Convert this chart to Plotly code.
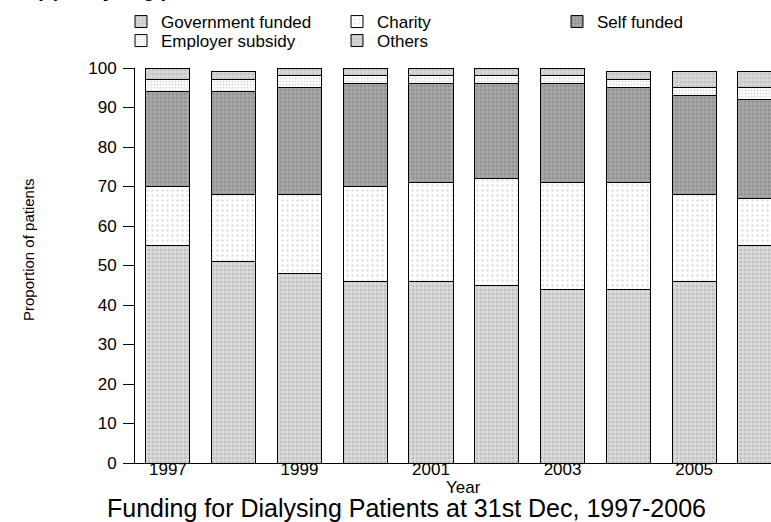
import plotly.graph_objects as go

# Data (percent of patients, per year)
years = [1997, 1998, 1999, 2000, 2001, 2002, 2003, 2004, 2005, 2006]
government = [55, 51, 48, 46, 46, 45, 44, 44, 46, 55]
charity = [15, 17, 20, 24, 25, 27, 27, 27, 22, 12]
self_funded = [24, 26, 27, 26, 25, 24, 25, 24, 25, 25]
employer = [3, 3, 3, 2, 2, 2, 2, 2, 2, 3]
others = [3, 2, 2, 2, 2, 2, 2, 2, 4, 4]
year_ticks = [1997, 1999, 2001, 2003, 2005]
y_ticks = [0, 10, 20, 30, 40, 50, 60, 70, 80, 90, 100]

FONT = "Liberation Sans, Arial, sans-serif"

# plot area in pixels (used to place the text outside the axes)
W, H = 771, 522
L, T, B = 135, 68, 59
PW = W - L
PH = H - T - B


def px_x(x):
    return (x - L) / PW


def px_y(y):
    return (H - B - y) / PH


# stacking order bottom -> top, with the legend slot of each series
series = [
    ("Government funded", government, "#d9d9d9", "#a4a4a4", 4, 0.35, "legend"),
    ("Charity", charity, "#ffffff", "#bdbdbd", 5, 0.2, "legend2"),
    ("Self funded", self_funded, "#a6a6a6", "#7a7a7a", 4, 0.35, "legend3"),
    ("Employer subsidy", employer, "#ffffff", "#b0b0b0", 3, 0.3, "legend4"),
    ("Others", others, "#d6d6d6", "#b0b0b0", 4, 0.35, "legend5"),
]

fig = go.Figure()
for name, vals, bg, fg, size, sol, leg in series:
    fig.add_trace(go.Bar(
        x=years, y=vals, name=name, legend=leg,
        marker=dict(color=bg, line=dict(color="black", width=1),
                    pattern=dict(shape=".", bgcolor=bg, fgcolor=fg,
                                 size=size, solidity=sol)),
    ))

leg_common = dict(font=dict(family=FONT, size=17, color="black"),
                  bgcolor="rgba(0,0,0,0)", borderwidth=0,
                  xanchor="left", yanchor="middle")

fig.update_layout(
    width=W, height=H,
    margin=dict(l=L, r=0, t=T, b=B),
    barmode="stack",
    bargap=0.33,
    plot_bgcolor="white",
    paper_bgcolor="white",
    font=dict(family=FONT, size=17, color="black"),
    showlegend=True,
    legend=dict(x=px_x(121), y=px_y(22), **leg_common),
    legend2=dict(x=px_x(337), y=px_y(22), **leg_common),
    legend3=dict(x=px_x(557), y=px_y(22), **leg_common),
    legend4=dict(x=px_x(121), y=px_y(41), **leg_common),
    legend5=dict(x=px_x(337), y=px_y(41), **leg_common),
    xaxis=dict(
        range=[1996.5, 1996.5 + PW / 65.78],
        tickvals=year_ticks,
        ticks="",
        ticklabelstandoff=-9,
        showline=True, linecolor="black", linewidth=1,
        showgrid=False, zeroline=False,
        tickfont=dict(size=17),
    ),
    yaxis=dict(
        range=[0, 100],
        tickvals=y_ticks,
        ticks="outside", ticklen=11, tickcolor="black", tickwidth=1,
        ticklabelstandoff=3,
        showline=True, linecolor="black", linewidth=1,
        showgrid=False, zeroline=False,
        tickfont=dict(size=17),
    ),
    annotations=[
        dict(text="Year", xref="paper", yref="paper",
             x=px_x(463), y=px_y(487), xanchor="center", yanchor="middle",
             showarrow=False, font=dict(size=17)),
        dict(text="Proportion of patients", xref="paper", yref="paper",
             x=px_x(28), y=px_y(250), xanchor="center", yanchor="middle",
             textangle=-90, showarrow=False, font=dict(size=15)),
        dict(text="Funding for Dialysing Patients at 31st Dec, 1997-2006",
             xref="paper", yref="paper", x=px_x(406), y=px_y(508),
             xanchor="center", yanchor="middle",
             showarrow=False, font=dict(size=25)),
        dict(text="<b>(a) Dialysing patients</b>", xref="paper", yref="paper",
             x=px_x(34), y=px_y(3), xanchor="left", yanchor="bottom",
             showarrow=False, font=dict(size=20)),
    ],
)

# page margin off so the figure sits at the window's top-left corner
fig.write_html("out.html", config={"displayModeBar": False},
               post_script="document.body.style.margin='0';")
